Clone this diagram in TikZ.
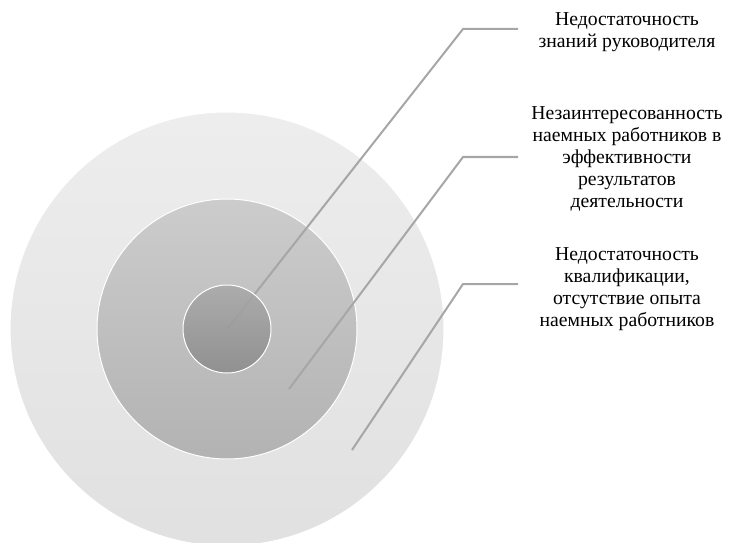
\documentclass[tikz,border=0pt]{standalone}
\usepackage{fontspec}
\setmainfont{Liberation Serif}
\begin{document}
\begin{tikzpicture}[x=1pt,y=-1pt,
  ring/.style={circle,draw=white,line width=1pt,inner sep=0pt},
  leader/.style={draw=black!35,line width=2pt},
  lbl/.style={align=center,inner sep=0pt,font=\fontsize{19.7}{21.8}\selectfont}]
\useasboundingbox (0,0) rectangle (732,543);
\node[ring,minimum size=434,top color=black!7,bottom color=black!12] (outer) at (227,329) {};
\node[ring,minimum size=260,top color=black!20,bottom color=black!30] (middle) at (227,329) {};
\coordinate (s1) at (228,328);
\coordinate (c1) at (463,29);
\coordinate (e1) at (518,29);
\coordinate (s2) at (289,389);
\coordinate (c2) at (463,157);
\coordinate (e2) at (518,157);
\coordinate (s3) at (352,450);
\coordinate (c3) at (463,284);
\coordinate (e3) at (518,284);
\draw[leader] (s1) -- (c1) -- (e1);
\draw[leader] (s2) -- (c2) -- (e2);
\draw[leader] (s3) -- (c3) -- (e3);
\node[ring,minimum size=88,top color=black!34,bottom color=black!46,fill opacity=0.85,draw opacity=1] (inner) at (227,329) {};
\node[lbl] (t1) at (627,32) {Недостаточность\\знаний руководителя};
\node[lbl] (t2) at (627,159) {Незаинтересованность\\наемных работников в\\эффективности\\результатов\\деятельности};
\node[lbl] (t3) at (627,289) {Недостаточность\\квалификации,\\отсутствие опыта\\наемных работников};
\end{tikzpicture}
\end{document}
